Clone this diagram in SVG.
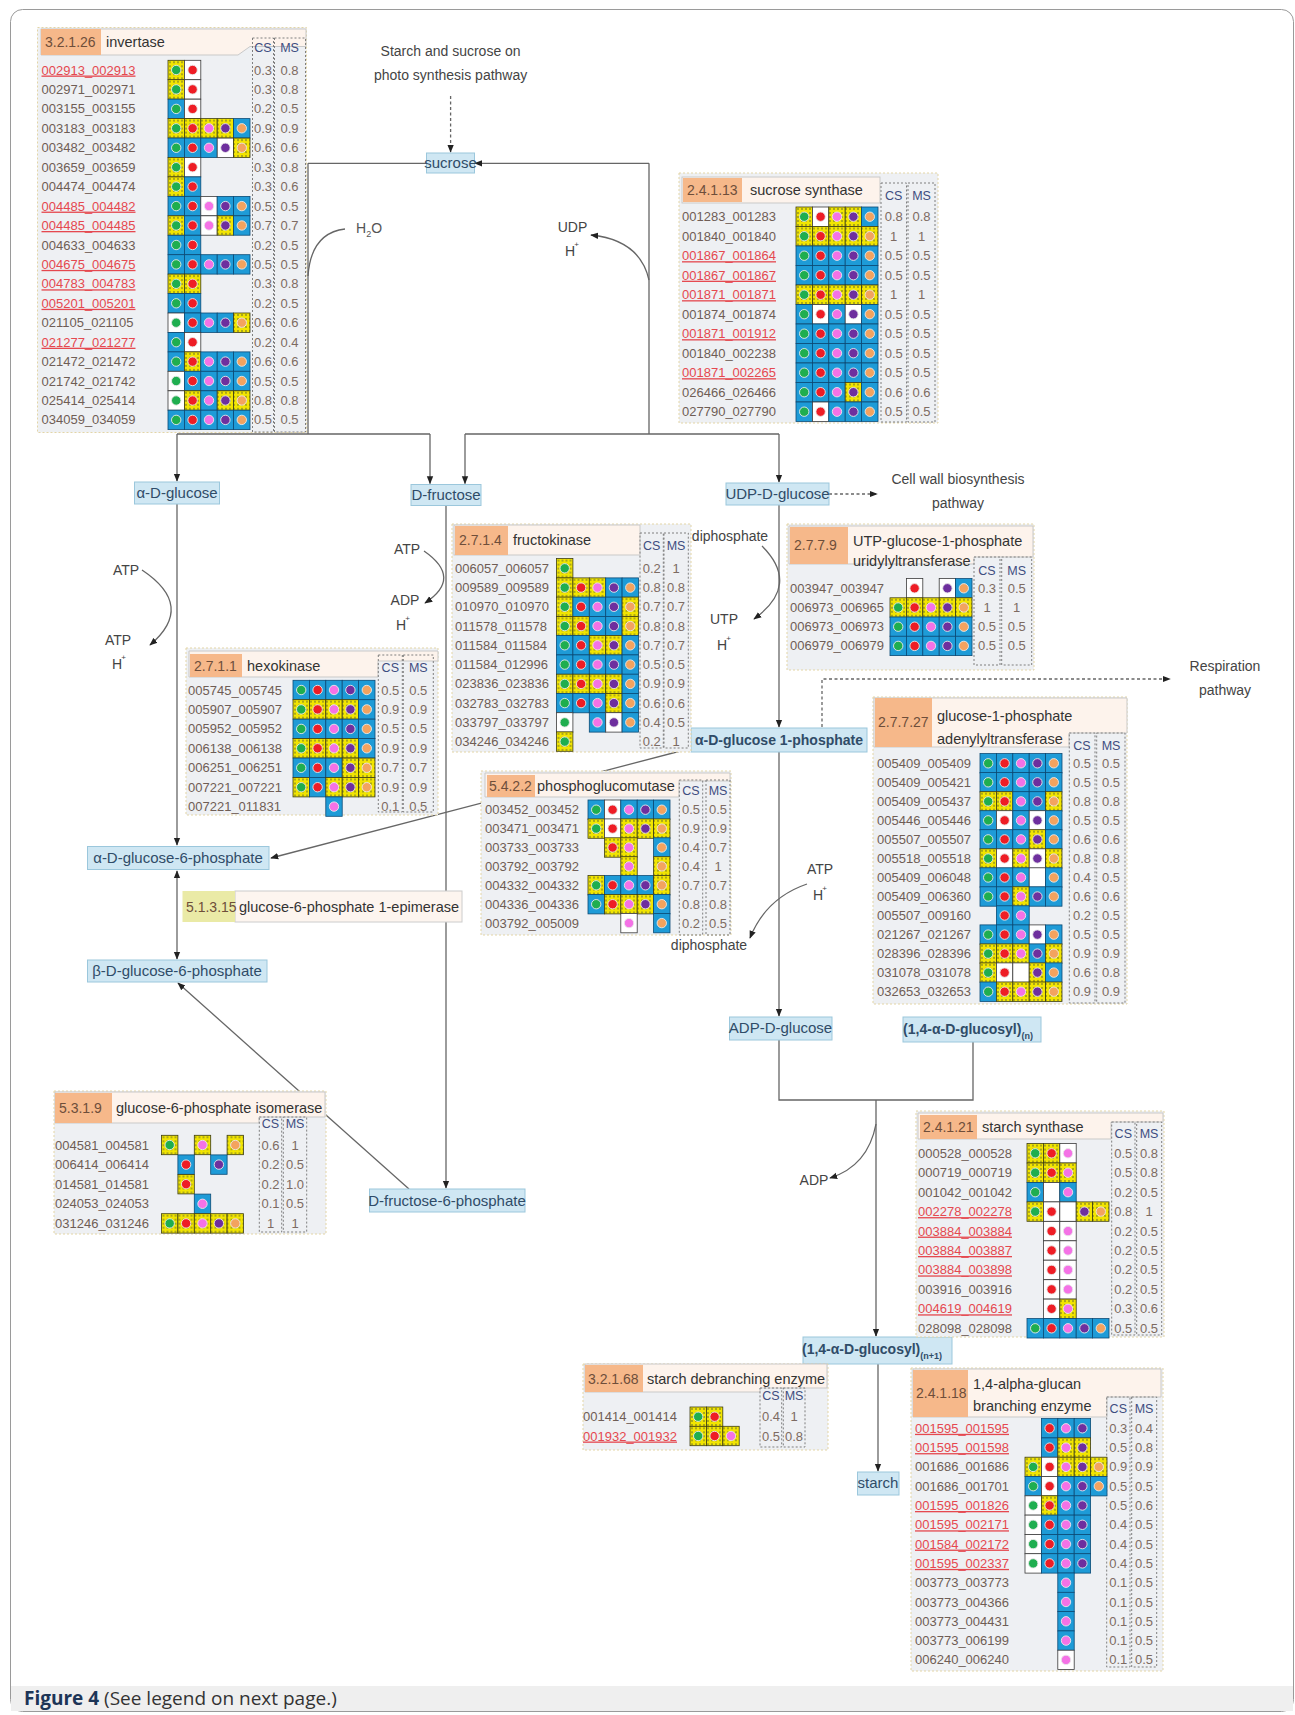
<svg xmlns="http://www.w3.org/2000/svg" width="1295" height="1715" viewBox="0 0 1295 1715">
<style>
text{font-family:"Liberation Sans",Arial,sans-serif}
.id{font-size:13px;fill:#6f5d55}
.r{fill:#e5484f;text-decoration:underline}
.v{font-size:13px;fill:#7d6b62;text-anchor:middle}
.h{font-size:12.5px;fill:#3e4d80;text-anchor:middle}
.ec{font-size:14px;fill:#6e4e3a}
.en{font-size:14.5px;fill:#333}
.tb{fill:#eef0f3;stroke:#e3d5a6;stroke-dasharray:2 2}
.hb{fill:#fdf3ec;stroke:#c9c9c9}
.ob{fill:#f6b88a}
.cs{fill:none;stroke:#7f7f7f;stroke-dasharray:2 2}
.cb{fill:#1e9bd7;stroke:#0b4a75;stroke-width:.8}
.cy{fill:url(#dots);stroke:#3d3d12;stroke-width:.8}
.cw{fill:#fff;stroke:#3a3a3a;stroke-width:.8}
.k{stroke:#e9e9e9;stroke-width:.9}
.k0{fill:#1fae4f}.k1{fill:#ee1d25}.k2{fill:#f472e6}.k3{fill:#6e2f9e}.k4{fill:#f3a35f}
.m{fill:#cfe7f3;stroke:#9bc7dc}
.mt{font-size:15px;fill:#2f4c68;text-anchor:middle}
.mb{font-weight:bold;font-size:14px}
.l{font-size:14px;fill:#555}
.lc{font-size:14px;fill:#444;text-anchor:middle}
.c{fill:none;stroke:#666;stroke-width:1.3}
.d{stroke-dasharray:3 2.5}
</style>
<defs>
<pattern id="dots" width="4" height="4" patternUnits="userSpaceOnUse"><rect width="4" height="4" fill="#f2e500"/><circle cx="2" cy="2" r="0.9" fill="#8a8a24"/></pattern>
<marker id="ah" viewBox="0 0 10 10" refX="9" refY="5" markerWidth="8" markerHeight="8" markerUnits="userSpaceOnUse" orient="auto-start-reverse"><path d="M0,1L10,5L0,9Z" fill="#222"/></marker>
<g id="b0"><rect class="cb" x="0" width="16.4" height="19.4"/><circle class="k k0" cx="8.2" cy="9.7" r="4.7"/></g>
<g id="b1"><rect class="cb" x="16.4" width="16.4" height="19.4"/><circle class="k k1" cx="24.6" cy="9.7" r="4.7"/></g>
<g id="b2"><rect class="cb" x="32.8" width="16.4" height="19.4"/><circle class="k k2" cx="41" cy="9.7" r="4.7"/></g>
<g id="b3"><rect class="cb" x="49.2" width="16.4" height="19.4"/><circle class="k k3" cx="57.4" cy="9.7" r="4.7"/></g>
<g id="b4"><rect class="cb" x="65.6" width="16.4" height="19.4"/><circle class="k k4" cx="73.8" cy="9.7" r="4.7"/></g>
<g id="y0"><rect class="cy" x="0" width="16.4" height="19.4"/><circle class="k k0" cx="8.2" cy="9.7" r="4.7"/></g>
<g id="y1"><rect class="cy" x="16.4" width="16.4" height="19.4"/><circle class="k k1" cx="24.6" cy="9.7" r="4.7"/></g>
<g id="y2"><rect class="cy" x="32.8" width="16.4" height="19.4"/><circle class="k k2" cx="41" cy="9.7" r="4.7"/></g>
<g id="y3"><rect class="cy" x="49.2" width="16.4" height="19.4"/><circle class="k k3" cx="57.4" cy="9.7" r="4.7"/></g>
<g id="y4"><rect class="cy" x="65.6" width="16.4" height="19.4"/><circle class="k k4" cx="73.8" cy="9.7" r="4.7"/></g>
<g id="w0"><rect class="cw" x="0" width="16.4" height="19.4"/><circle class="k k0" cx="8.2" cy="9.7" r="4.7"/></g>
<g id="w1"><rect class="cw" x="16.4" width="16.4" height="19.4"/><circle class="k k1" cx="24.6" cy="9.7" r="4.7"/></g>
<g id="w2"><rect class="cw" x="32.8" width="16.4" height="19.4"/><circle class="k k2" cx="41" cy="9.7" r="4.7"/></g>
<g id="w3"><rect class="cw" x="49.2" width="16.4" height="19.4"/><circle class="k k3" cx="57.4" cy="9.7" r="4.7"/></g>
<g id="w4"><rect class="cw" x="65.6" width="16.4" height="19.4"/><circle class="k k4" cx="73.8" cy="9.7" r="4.7"/></g>
<rect id="e1" class="cw" x="16.4" width="16.4" height="19.4"/>
<rect id="e2" class="cw" x="32.8" width="16.4" height="19.4"/>
<rect id="e3" class="cw" x="49.2" width="16.4" height="19.4"/>
<g id="B"><use href="#b0"/><use href="#b1"/><use href="#b2"/><use href="#b3"/><use href="#b4"/></g>
<g id="Y"><use href="#y0"/><use href="#y1"/><use href="#y2"/><use href="#y3"/><use href="#y4"/></g>
</defs>
<rect width="1295" height="1715" fill="#fff"/>
<rect x="10.5" y="9.5" width="1283" height="1702" rx="12" fill="none" stroke="#9a9a9a"/>
<rect x="11" y="1686" width="1282" height="25" fill="#efefef"/>
<text x="24" y="1705" style="font-family:'Open Sans','Liberation Sans',sans-serif;font-size:19px"><tspan font-weight="bold" fill="#1d3557">Figure 4</tspan><tspan fill="#333"> (See legend on next page.)</tspan></text>

<!-- connectors -->
<g id="connectors">
<path class="c" d="M308,163.3H426.5"/>
<path class="c" d="M649,163.3H475" marker-end="url(#ah)"/>
<path class="c" d="M308,163.3V434M177,434H430M649,163.3V434M465,434H779"/>
<path class="c" d="M177,434V481" marker-end="url(#ah)"/>
<path class="c" d="M430,434V483.5" marker-end="url(#ah)"/>
<path class="c" d="M465,434V483.5" marker-end="url(#ah)"/>
<path class="c" d="M779,434V482" marker-end="url(#ah)"/>
<path class="c d" d="M450.6,96V152" marker-end="url(#ah)"/>
<path class="c" d="M308,276Q311,233 345,229"/>
<path class="c" d="M649,280Q640,240 591,235" marker-end="url(#ah)"/>
<path class="c" d="M142,570Q196,606 150,645" marker-end="url(#ah)"/>
<path class="c" d="M424,551Q463,578 425,603" marker-end="url(#ah)"/>
<path class="c" d="M762,546Q801,585 754,619" marker-end="url(#ah)"/>
<path class="c d" d="M829,494H877" marker-end="url(#ah)"/>
<path class="c d" d="M822,727V679H1170" marker-end="url(#ah)"/>
<path class="c" d="M177,504V845" marker-end="url(#ah)"/>
<path class="c" d="M446,505V1188" marker-end="url(#ah)"/>
<path class="c" d="M779,505V727" marker-end="url(#ah)"/>
<path class="c" d="M692,748L271,858" marker-end="url(#ah)"/>
<path class="c" d="M177,871V959" marker-start="url(#ah)" marker-end="url(#ah)"/>
<path class="c" d="M409,1189L178,983" marker-end="url(#ah)"/>
<path class="c" d="M779,752V1016" marker-end="url(#ah)"/>
<path class="c" d="M807,884Q766,898 750,938" marker-end="url(#ah)"/>
<path class="c" d="M779,1040V1100H973V1042M876,1100V1336"/>
<path class="c" d="M876,1330V1336" marker-end="url(#ah)"/>
<path class="c" d="M876,1124Q868,1166 830,1178" marker-end="url(#ah)"/>
<path class="c" d="M878,1364V1471" marker-end="url(#ah)"/>
</g>

<!-- free labels -->
<text class="lc" x="450.6" y="56">Starch and sucrose on</text>
<text class="lc" x="450.6" y="80">photo synthesis pathway</text>
<text class="l" x="356" y="233">H<tspan dy="4" font-size="9">2</tspan><tspan dy="-4">O</tspan></text>
<text class="lc" x="572.5" y="232">UDP</text>
<text class="lc" x="572" y="256">H<tspan font-size="8" dx="-1" dy="-9">+</tspan></text>
<text class="lc" x="958" y="484">Cell wall biosynthesis</text>
<text class="lc" x="958" y="508">pathway</text>
<text class="lc" x="126" y="575">ATP</text>
<text class="lc" x="118" y="645">ATP</text>
<text class="lc" x="119" y="669">H<tspan font-size="8" dx="-1" dy="-9">+</tspan></text>
<text class="lc" x="407" y="554">ATP</text>
<text class="lc" x="405" y="605">ADP</text>
<text class="lc" x="403" y="630">H<tspan font-size="8" dx="-1" dy="-9">+</tspan></text>
<text class="lc" x="730" y="541">diphosphate</text>
<text class="lc" x="724" y="624">UTP</text>
<text class="lc" x="724" y="650">H<tspan font-size="8" dx="-1" dy="-9">+</tspan></text>
<text class="lc" x="1225" y="671">Respiration</text>
<text class="lc" x="1225" y="695">pathway</text>
<text class="lc" x="820" y="874">ATP</text>
<text class="lc" x="820" y="900">H<tspan font-size="8" dx="-1" dy="-9">+</tspan></text>
<text class="lc" x="709" y="950">diphosphate</text>
<text class="lc" x="814" y="1185">ADP</text>

<!-- metabolites -->
<g id="sucrose"><rect class="m" x="426.5" y="153" width="48" height="20"/><text class="mt" x="450.5" y="168" font-size="13.5">sucrose</text></g>
<g id="a-glucose"><rect class="m" x="134.5" y="482" width="85" height="22"/><text class="mt" x="177" y="498">α-D-glucose</text></g>
<g id="d-fructose"><rect class="m" x="411" y="484.5" width="70" height="21"/><text class="mt" x="446" y="500">D-fructose</text></g>
<g id="udp-glucose"><rect class="m" x="726" y="483" width="103" height="22"/><text class="mt" x="777.5" y="499" font-size="14">UDP-D-glucose</text></g>
<g id="a-g1p"><rect class="m" x="691" y="728" width="176" height="24"/><text class="mt mb" x="779" y="745">α-D-glucose 1-phosphate</text></g>
<g id="a-g6p"><rect class="m" x="87.5" y="846.5" width="181.5" height="23"/><text class="mt" x="178" y="863">α-D-glucose-6-phosphate</text></g>
<g id="b-g6p"><rect class="m" x="87.5" y="960" width="179.5" height="22"/><text class="mt" x="177" y="976">β-D-glucose-6-phosphate</text></g>
<g id="f6p"><rect class="m" x="369.5" y="1189" width="155.5" height="23"/><text class="mt" x="447" y="1205.5" font-size="14.5">D-fructose-6-phosphate</text></g>
<g id="adp-glucose"><rect class="m" x="729.5" y="1017" width="102.5" height="23"/><text class="mt" x="780.5" y="1033" font-size="14">ADP-D-glucose</text></g>
<g id="glucosyl-n"><rect class="m" x="903" y="1017" width="138" height="25"/><text class="mt mb" x="968" y="1034">(1,4-α-D-glucosyl)<tspan font-size="9" dy="5">(n)</tspan></text></g>
<g id="glucosyl-n1"><rect class="m" x="803" y="1337" width="149" height="27"/><text class="mt mb" x="872" y="1354">(1,4-α-D-glucosyl)<tspan font-size="9" dy="5">(n+1)</tspan></text></g>
<g id="starch"><rect class="m" x="857.5" y="1472" width="41.5" height="23"/><text class="mt" x="878" y="1488" font-size="14">starch</text></g>

<!-- epimerase -->
<g id="epimerase"><rect x="235" y="891" width="227" height="31" fill="#fdf5ef" stroke="#cccccc"/><rect x="182.5" y="891" width="52.5" height="31" fill="#eaeaa6"/><text class="ec" x="186" y="911.5">5.1.3.15</text><text class="en" x="239" y="911.5">glucose-6-phosphate 1-epimerase</text></g>

<!-- T1 invertase -->
<g id="invertase">
<rect class="tb" x="37.5" y="27.5" width="269" height="405"/>
<path class="hb" d="M41,29H306V46.5H250L238,55H41Z"/>
<rect class="ob" x="41" y="29" width="60" height="26"/>
<text class="ec" x="45" y="47">3.2.1.26</text><text class="en" x="106" y="47">invertase</text>
<rect class="cs" x="252.5" y="38" width="21" height="394"/><rect class="cs" x="274.5" y="38" width="31" height="394"/>
<text class="h" x="263" y="51.5">CS</text><text class="h" x="289.5" y="51.5">MS</text>
<g transform="translate(168,60.3)"><use href="#y0"/><use href="#w1"/></g>
<g transform="translate(168,79.7)"><use href="#y0"/><use href="#w1"/></g>
<g transform="translate(168,99.2)"><use href="#b0"/><use href="#w1"/></g>
<g transform="translate(168,118.6)"><use href="#y0"/><use href="#y1"/><use href="#y2"/><use href="#y3"/><use href="#b4"/></g>
<g transform="translate(168,138.1)"><use href="#b0"/><use href="#b1"/><use href="#b2"/><use href="#w3"/><use href="#y4"/></g>
<g transform="translate(168,157.5)"><use href="#y0"/><use href="#w1"/></g>
<g transform="translate(168,176.9)"><use href="#y0"/><use href="#b1"/></g>
<g transform="translate(168,196.4)"><use href="#b0"/><use href="#b1"/><use href="#w2"/><use href="#b3"/><use href="#b4"/></g>
<g transform="translate(168,215.8)"><use href="#y0"/><use href="#b1"/><use href="#w2"/><use href="#y3"/><use href="#b4"/></g>
<g transform="translate(168,235.3)"><use href="#b0"/><use href="#b1"/></g>
<g transform="translate(168,254.7)"><use href="#B"/></g>
<g transform="translate(168,274.1)"><use href="#y0"/><use href="#y1"/></g>
<g transform="translate(168,293.6)"><use href="#b0"/><use href="#b1"/></g>
<g transform="translate(168,313)"><use href="#w0"/><use href="#b1"/><use href="#b2"/><use href="#b3"/><use href="#y4"/></g>
<g transform="translate(168,332.5)"><use href="#b0"/><use href="#w1"/></g>
<g transform="translate(168,351.9)"><use href="#b0"/><use href="#y1"/><use href="#b2"/><use href="#b3"/><use href="#b4"/></g>
<g transform="translate(168,371.3)"><use href="#w0"/><use href="#b1"/><use href="#b2"/><use href="#b3"/><use href="#b4"/></g>
<g transform="translate(168,390.8)"><use href="#w0"/><use href="#y1"/><use href="#b2"/><use href="#y3"/><use href="#y4"/></g>
<g transform="translate(168,410.2)"><use href="#B"/></g>
<text class="id r" x="41.5" y="74.5">002913_002913</text>
<text class="id" x="41.5" y="93.9">002971_002971</text>
<text class="id" x="41.5" y="113.4">003155_003155</text>
<text class="id" x="41.5" y="132.8">003183_003183</text>
<text class="id" x="41.5" y="152.3">003482_003482</text>
<text class="id" x="41.5" y="171.7">003659_003659</text>
<text class="id" x="41.5" y="191.1">004474_004474</text>
<text class="id r" x="41.5" y="210.6">004485_004482</text>
<text class="id r" x="41.5" y="230">004485_004485</text>
<text class="id" x="41.5" y="249.5">004633_004633</text>
<text class="id r" x="41.5" y="268.9">004675_004675</text>
<text class="id r" x="41.5" y="288.3">004783_004783</text>
<text class="id r" x="41.5" y="307.8">005201_005201</text>
<text class="id" x="41.5" y="327.2">021105_021105</text>
<text class="id r" x="41.5" y="346.7">021277_021277</text>
<text class="id" x="41.5" y="366.1">021472_021472</text>
<text class="id" x="41.5" y="385.5">021742_021742</text>
<text class="id" x="41.5" y="405">025414_025414</text>
<text class="id" x="41.5" y="424.4">034059_034059</text>
<text class="v"><tspan x="263" y="74.5">0.3</tspan><tspan x="289.5">0.8</tspan><tspan x="263" y="93.9">0.3</tspan><tspan x="289.5">0.8</tspan><tspan x="263" y="113.4">0.2</tspan><tspan x="289.5">0.5</tspan><tspan x="263" y="132.8">0.9</tspan><tspan x="289.5">0.9</tspan><tspan x="263" y="152.3">0.6</tspan><tspan x="289.5">0.6</tspan><tspan x="263" y="171.7">0.3</tspan><tspan x="289.5">0.8</tspan><tspan x="263" y="191.1">0.3</tspan><tspan x="289.5">0.6</tspan><tspan x="263" y="210.6">0.5</tspan><tspan x="289.5">0.5</tspan><tspan x="263" y="230">0.7</tspan><tspan x="289.5">0.7</tspan><tspan x="263" y="249.5">0.2</tspan><tspan x="289.5">0.5</tspan><tspan x="263" y="268.9">0.5</tspan><tspan x="289.5">0.5</tspan><tspan x="263" y="288.3">0.3</tspan><tspan x="289.5">0.8</tspan><tspan x="263" y="307.8">0.2</tspan><tspan x="289.5">0.5</tspan><tspan x="263" y="327.2">0.6</tspan><tspan x="289.5">0.6</tspan><tspan x="263" y="346.7">0.2</tspan><tspan x="289.5">0.4</tspan><tspan x="263" y="366.1">0.6</tspan><tspan x="289.5">0.6</tspan><tspan x="263" y="385.5">0.5</tspan><tspan x="289.5">0.5</tspan><tspan x="263" y="405">0.8</tspan><tspan x="289.5">0.8</tspan><tspan x="263" y="424.4">0.5</tspan><tspan x="289.5">0.5</tspan></text>
</g>

<!-- T2 sucrose synthase -->
<g id="sucrose-synthase">
<rect class="tb" x="679" y="173" width="259" height="250"/>
<rect class="hb" x="682" y="177" width="198" height="26"/>
<rect class="ob" x="683" y="178" width="59" height="24"/>
<text class="ec" x="687" y="195">2.4.1.13</text><text class="en" x="750" y="195">sucrose synthase</text>
<rect class="cs" x="881" y="183" width="25.5" height="239"/><rect class="cs" x="908" y="183" width="27" height="239"/>
<text class="h" x="893.7" y="199.5">CS</text><text class="h" x="921.5" y="199.5">MS</text>
<g transform="translate(796,207)"><use href="#y0"/><use href="#w1"/><use href="#y2"/><use href="#y3"/><use href="#b4"/></g>
<g transform="translate(796,226.5)"><use href="#Y"/></g>
<g transform="translate(796,246)"><use href="#B"/></g>
<g transform="translate(796,265.5)"><use href="#B"/></g>
<g transform="translate(796,285)"><use href="#Y"/></g>
<g transform="translate(796,304.5)"><use href="#b0"/><use href="#w1"/><use href="#b2"/><use href="#w3"/><use href="#b4"/></g>
<g transform="translate(796,324)"><use href="#B"/></g>
<g transform="translate(796,343.5)"><use href="#B"/></g>
<g transform="translate(796,363)"><use href="#B"/></g>
<g transform="translate(796,382.5)"><use href="#b0"/><use href="#b1"/><use href="#b2"/><use href="#y3"/><use href="#b4"/></g>
<g transform="translate(796,402)"><use href="#b0"/><use href="#w1"/><use href="#b2"/><use href="#b3"/><use href="#b4"/></g>
<text class="id" x="682" y="221.2">001283_001283</text>
<text class="id" x="682" y="240.7">001840_001840</text>
<text class="id r" x="682" y="260.2">001867_001864</text>
<text class="id r" x="682" y="279.7">001867_001867</text>
<text class="id r" x="682" y="299.2">001871_001871</text>
<text class="id" x="682" y="318.7">001874_001874</text>
<text class="id r" x="682" y="338.2">001871_001912</text>
<text class="id" x="682" y="357.7">001840_002238</text>
<text class="id r" x="682" y="377.2">001871_002265</text>
<text class="id" x="682" y="396.7">026466_026466</text>
<text class="id" x="682" y="416.2">027790_027790</text>
<text class="v"><tspan x="893.7" y="221.2">0.8</tspan><tspan x="921.5">0.8</tspan><tspan x="893.7" y="240.7">1</tspan><tspan x="921.5">1</tspan><tspan x="893.7" y="260.2">0.5</tspan><tspan x="921.5">0.5</tspan><tspan x="893.7" y="279.7">0.5</tspan><tspan x="921.5">0.5</tspan><tspan x="893.7" y="299.2">1</tspan><tspan x="921.5">1</tspan><tspan x="893.7" y="318.7">0.5</tspan><tspan x="921.5">0.5</tspan><tspan x="893.7" y="338.2">0.5</tspan><tspan x="921.5">0.5</tspan><tspan x="893.7" y="357.7">0.5</tspan><tspan x="921.5">0.5</tspan><tspan x="893.7" y="377.2">0.5</tspan><tspan x="921.5">0.5</tspan><tspan x="893.7" y="396.7">0.6</tspan><tspan x="921.5">0.6</tspan><tspan x="893.7" y="416.2">0.5</tspan><tspan x="921.5">0.5</tspan></text>
</g>

<!-- T3 fructokinase -->
<g id="fructokinase">
<rect class="tb" x="452" y="524" width="239" height="228"/>
<rect class="hb" x="454" y="525" width="186" height="30"/>
<rect class="ob" x="455" y="526" width="53" height="29"/>
<text class="ec" x="459" y="545">2.7.1.4</text><text class="en" x="513" y="545">fructokinase</text>
<rect class="cs" x="640" y="533" width="23.3" height="215"/><rect class="cs" x="664" y="533" width="24.3" height="215"/>
<text class="h" x="651.7" y="550">CS</text><text class="h" x="676" y="550">MS</text>
<g transform="translate(556.5,558.6)"><use href="#y0"/></g>
<g transform="translate(556.5,577.9)"><use href="#y0"/><use href="#y1"/><use href="#y2"/><use href="#b3"/><use href="#b4"/></g>
<g transform="translate(556.5,597.1)"><use href="#y0"/><use href="#b1"/><use href="#b2"/><use href="#b3"/><use href="#y4"/></g>
<g transform="translate(556.5,616.4)"><use href="#y0"/><use href="#y1"/><use href="#b2"/><use href="#b3"/><use href="#y4"/></g>
<g transform="translate(556.5,635.6)"><use href="#b0"/><use href="#b1"/><use href="#y2"/><use href="#y3"/><use href="#b4"/></g>
<g transform="translate(556.5,654.9)"><use href="#B"/></g>
<g transform="translate(556.5,674.2)"><use href="#y0"/><use href="#y1"/><use href="#y2"/><use href="#y3"/><use href="#b4"/></g>
<g transform="translate(556.5,693.4)"><use href="#b0"/><use href="#b1"/><use href="#b2"/><use href="#y3"/><use href="#b4"/></g>
<g transform="translate(556.5,712.7)"><use href="#w0"/><use href="#b2"/><use href="#w3"/><use href="#b4"/></g>
<g transform="translate(556.5,731.9)"><use href="#y0"/></g>
<text class="id" x="455" y="572.8">006057_006057</text>
<text class="id" x="455" y="592.1">009589_009589</text>
<text class="id" x="455" y="611.3">010970_010970</text>
<text class="id" x="455" y="630.6">011578_011578</text>
<text class="id" x="455" y="649.8">011584_011584</text>
<text class="id" x="455" y="669.1">011584_012996</text>
<text class="id" x="455" y="688.4">023836_023836</text>
<text class="id" x="455" y="707.6">032783_032783</text>
<text class="id" x="455" y="726.9">033797_033797</text>
<text class="id" x="455" y="746.1">034246_034246</text>
<text class="v"><tspan x="651.7" y="572.8">0.2</tspan><tspan x="676">1</tspan><tspan x="651.7" y="592.1">0.8</tspan><tspan x="676">0.8</tspan><tspan x="651.7" y="611.3">0.7</tspan><tspan x="676">0.7</tspan><tspan x="651.7" y="630.6">0.8</tspan><tspan x="676">0.8</tspan><tspan x="651.7" y="649.8">0.7</tspan><tspan x="676">0.7</tspan><tspan x="651.7" y="669.1">0.5</tspan><tspan x="676">0.5</tspan><tspan x="651.7" y="688.4">0.9</tspan><tspan x="676">0.9</tspan><tspan x="651.7" y="707.6">0.6</tspan><tspan x="676">0.6</tspan><tspan x="651.7" y="726.9">0.4</tspan><tspan x="676">0.5</tspan><tspan x="651.7" y="746.1">0.2</tspan><tspan x="676">1</tspan></text>
</g>

<!-- T4 hexokinase -->
<g id="hexokinase">
<rect class="tb" x="186" y="648" width="252" height="167"/>
<path class="hb" d="M189,651H438V661H378V677H189Z"/>
<rect class="ob" x="190" y="654" width="52" height="23"/>
<text class="ec" x="194" y="670.5">2.7.1.1</text><text class="en" x="247" y="670.5">hexokinase</text>
<rect class="cs" x="378.3" y="655" width="24" height="157"/><rect class="cs" x="403.3" y="655" width="30" height="157"/>
<text class="h" x="390.3" y="671.5">CS</text><text class="h" x="418.3" y="671.5">MS</text>
<g transform="translate(293,680.3)"><use href="#B"/></g>
<g transform="translate(293,699.7)"><use href="#y0"/><use href="#y1"/><use href="#y2"/><use href="#y3"/><use href="#b4"/></g>
<g transform="translate(293,719.2)"><use href="#B"/></g>
<g transform="translate(293,738.6)"><use href="#y0"/><use href="#y1"/><use href="#y2"/><use href="#y3"/><use href="#b4"/></g>
<g transform="translate(293,758.1)"><use href="#b0"/><use href="#b1"/><use href="#b2"/><use href="#y3"/><use href="#y4"/></g>
<g transform="translate(293,777.5)"><use href="#y0"/><use href="#b1"/><use href="#y2"/><use href="#y3"/><use href="#y4"/></g>
<g transform="translate(293,796.9)"><use href="#b2"/></g>
<text class="id" x="188" y="694.5">005745_005745</text>
<text class="id" x="188" y="713.9">005907_005907</text>
<text class="id" x="188" y="733.4">005952_005952</text>
<text class="id" x="188" y="752.8">006138_006138</text>
<text class="id" x="188" y="772.3">006251_006251</text>
<text class="id" x="188" y="791.7">007221_007221</text>
<text class="id" x="188" y="811.1">007221_011831</text>
<text class="v"><tspan x="390.3" y="694.5">0.5</tspan><tspan x="418.3">0.5</tspan><tspan x="390.3" y="713.9">0.9</tspan><tspan x="418.3">0.9</tspan><tspan x="390.3" y="733.4">0.5</tspan><tspan x="418.3">0.5</tspan><tspan x="390.3" y="752.8">0.9</tspan><tspan x="418.3">0.9</tspan><tspan x="390.3" y="772.3">0.7</tspan><tspan x="418.3">0.7</tspan><tspan x="390.3" y="791.7">0.9</tspan><tspan x="418.3">0.9</tspan><tspan x="390.3" y="811.1">0.1</tspan><tspan x="418.3">0.5</tspan></text>
</g>

<!-- T5 UTP-glucose-1-phosphate uridylyltransferase -->
<g id="utp-transferase">
<rect class="tb" x="787" y="524" width="247" height="146"/>
<path class="hb" d="M789,526H1033V557H974V564H789Z"/>
<rect class="ob" x="790" y="527" width="58" height="37"/>
<text class="ec" x="794" y="550">2.7.7.9</text>
<text class="en" x="853" y="546">UTP-glucose-1-phosphate</text><text class="en" x="853" y="566">uridylyltransferase</text>
<rect class="cs" x="974" y="557" width="26" height="108"/><rect class="cs" x="1001.7" y="557" width="30" height="108"/>
<text class="h" x="987" y="574.5">CS</text><text class="h" x="1016.7" y="574.5">MS</text>
<g transform="translate(890,578.6)"><use href="#w1"/><use href="#w3"/><use href="#b4"/></g>
<g transform="translate(890,597.8)"><use href="#Y"/></g>
<g transform="translate(890,617)"><use href="#B"/></g>
<g transform="translate(890,636.2)"><use href="#B"/></g>
<text class="id" x="790" y="592.8">003947_003947</text>
<text class="id" x="790" y="612">006973_006965</text>
<text class="id" x="790" y="631.2">006973_006973</text>
<text class="id" x="790" y="650.4">006979_006979</text>
<text class="v"><tspan x="987" y="592.8">0.3</tspan><tspan x="1016.7">0.5</tspan><tspan x="987" y="612">1</tspan><tspan x="1016.7">1</tspan><tspan x="987" y="631.2">0.5</tspan><tspan x="1016.7">0.5</tspan><tspan x="987" y="650.4">0.5</tspan><tspan x="1016.7">0.5</tspan></text>
</g>

<!-- T6 glucose-1-phosphate adenylyltransferase -->
<g id="g1p-adenylyltransferase">
<rect class="tb" x="873" y="697" width="254" height="307"/>
<path class="hb" d="M874,698H1127V733H1069V747H874Z"/>
<rect class="ob" x="875" y="698" width="57" height="49"/>
<text class="ec" x="878" y="727">2.7.7.27</text>
<text class="en" x="937" y="721">glucose-1-phosphate</text><text class="en" x="937" y="744">adenylyltransferase</text>
<rect class="cs" x="1069.3" y="733" width="25.7" height="270"/><rect class="cs" x="1096.7" y="733" width="28.3" height="270"/>
<text class="h" x="1082" y="749.5">CS</text><text class="h" x="1111" y="749.5">MS</text>
<g transform="translate(980,753.6)"><use href="#B"/></g>
<g transform="translate(980,772.6)"><use href="#B"/></g>
<g transform="translate(980,791.7)"><use href="#y0"/><use href="#y1"/><use href="#b2"/><use href="#b3"/><use href="#y4"/></g>
<g transform="translate(980,810.7)"><use href="#b0"/><use href="#w1"/><use href="#b2"/><use href="#w3"/><use href="#b4"/></g>
<g transform="translate(980,829.7)"><use href="#b0"/><use href="#b1"/><use href="#b2"/><use href="#y3"/><use href="#b4"/></g>
<g transform="translate(980,848.8)"><use href="#y0"/><use href="#w1"/><use href="#y2"/><use href="#w3"/><use href="#y4"/></g>
<g transform="translate(980,867.8)"><use href="#b0"/><use href="#b1"/><use href="#b2"/><use href="#e3"/><use href="#b4"/></g>
<g transform="translate(980,886.8)"><use href="#b0"/><use href="#b1"/><use href="#y2"/><use href="#b3"/><use href="#b4"/></g>
<g transform="translate(980,905.8)"><use href="#b1"/><use href="#b2"/></g>
<g transform="translate(980,924.9)"><use href="#b0"/><use href="#b1"/><use href="#b2"/><use href="#w3"/><use href="#b4"/></g>
<g transform="translate(980,943.9)"><use href="#y0"/><use href="#y1"/><use href="#y2"/><use href="#b3"/><use href="#y4"/></g>
<g transform="translate(980,962.9)"><use href="#y0"/><use href="#w1"/><use href="#e2"/><use href="#y3"/><use href="#b4"/></g>
<g transform="translate(980,982)"><use href="#b0"/><use href="#y1"/><use href="#y2"/><use href="#y3"/><use href="#y4"/></g>
<text class="id" x="877" y="767.8">005409_005409</text>
<text class="id" x="877" y="786.8">005409_005421</text>
<text class="id" x="877" y="805.9">005409_005437</text>
<text class="id" x="877" y="824.9">005446_005446</text>
<text class="id" x="877" y="843.9">005507_005507</text>
<text class="id" x="877" y="863">005518_005518</text>
<text class="id" x="877" y="882">005409_006048</text>
<text class="id" x="877" y="901">005409_006360</text>
<text class="id" x="877" y="920">005507_009160</text>
<text class="id" x="877" y="939.1">021267_021267</text>
<text class="id" x="877" y="958.1">028396_028396</text>
<text class="id" x="877" y="977.1">031078_031078</text>
<text class="id" x="877" y="996.2">032653_032653</text>
<text class="v"><tspan x="1082" y="767.8">0.5</tspan><tspan x="1111">0.5</tspan><tspan x="1082" y="786.8">0.5</tspan><tspan x="1111">0.5</tspan><tspan x="1082" y="805.9">0.8</tspan><tspan x="1111">0.8</tspan><tspan x="1082" y="824.9">0.5</tspan><tspan x="1111">0.5</tspan><tspan x="1082" y="843.9">0.6</tspan><tspan x="1111">0.6</tspan><tspan x="1082" y="863">0.8</tspan><tspan x="1111">0.8</tspan><tspan x="1082" y="882">0.4</tspan><tspan x="1111">0.5</tspan><tspan x="1082" y="901">0.6</tspan><tspan x="1111">0.6</tspan><tspan x="1082" y="920">0.2</tspan><tspan x="1111">0.5</tspan><tspan x="1082" y="939.1">0.5</tspan><tspan x="1111">0.5</tspan><tspan x="1082" y="958.1">0.9</tspan><tspan x="1111">0.9</tspan><tspan x="1082" y="977.1">0.6</tspan><tspan x="1111">0.8</tspan><tspan x="1082" y="996.2">0.9</tspan><tspan x="1111">0.9</tspan></text>
</g>

<!-- T7 phosphoglucomutase -->
<g id="phosphoglucomutase">
<rect class="tb" x="481" y="771" width="250" height="164"/>
<path class="hb" d="M485,773H730V781H679V797H485Z"/>
<rect class="ob" x="487" y="775" width="48" height="22"/>
<text class="ec" x="489" y="791">5.4.2.2</text><text class="en" x="537" y="791">phosphoglucomutase</text>
<rect class="cs" x="679.3" y="780" width="23.4" height="155"/><rect class="cs" x="706" y="780" width="24" height="155"/>
<text class="h" x="691" y="795">CS</text><text class="h" x="718" y="795">MS</text>
<g transform="translate(588,800)"><use href="#b0"/><use href="#w1"/><use href="#b2"/><use href="#b3"/><use href="#b4"/></g>
<g transform="translate(588,818.9)"><use href="#y0"/><use href="#w1"/><use href="#y2"/><use href="#y3"/><use href="#y4"/></g>
<g transform="translate(588,837.8)"><use href="#y1"/><use href="#y2"/><use href="#b4"/></g>
<g transform="translate(588,856.7)"><use href="#y2"/><use href="#y4"/></g>
<g transform="translate(588,875.6)"><use href="#y0"/><use href="#b1"/><use href="#b2"/><use href="#b3"/><use href="#y4"/></g>
<g transform="translate(588,894.5)"><use href="#b0"/><use href="#y1"/><use href="#y2"/><use href="#y3"/><use href="#b4"/></g>
<g transform="translate(588,913.4)"><use href="#w2"/><use href="#b4"/></g>
<text class="id" x="485" y="814.2">003452_003452</text>
<text class="id" x="485" y="833.1">003471_003471</text>
<text class="id" x="485" y="852">003733_003733</text>
<text class="id" x="485" y="870.9">003792_003792</text>
<text class="id" x="485" y="889.8">004332_004332</text>
<text class="id" x="485" y="908.7">004336_004336</text>
<text class="id" x="485" y="927.6">003792_005009</text>
<text class="v"><tspan x="691" y="814.2">0.5</tspan><tspan x="718">0.5</tspan><tspan x="691" y="833.1">0.9</tspan><tspan x="718">0.9</tspan><tspan x="691" y="852">0.4</tspan><tspan x="718">0.7</tspan><tspan x="691" y="870.9">0.4</tspan><tspan x="718">1</tspan><tspan x="691" y="889.8">0.7</tspan><tspan x="718">0.7</tspan><tspan x="691" y="908.7">0.8</tspan><tspan x="718">0.8</tspan><tspan x="691" y="927.6">0.2</tspan><tspan x="718">0.5</tspan></text>
</g>

<!-- T8 glucose-6-phosphate isomerase -->
<g id="g6p-isomerase">
<rect class="tb" x="54" y="1091" width="272" height="143"/>
<path class="hb" d="M55,1092H325V1117H259V1123H55Z"/>
<rect class="ob" x="55" y="1093" width="57" height="30"/>
<text class="ec" x="59" y="1113">5.3.1.9</text><text class="en" x="116" y="1113">glucose-6-phosphate isomerase</text>
<rect class="cs" x="259.3" y="1117" width="22.4" height="115"/><rect class="cs" x="283.3" y="1117" width="23.4" height="115"/>
<text class="h" x="270.5" y="1128">CS</text><text class="h" x="295" y="1128">MS</text>
<g transform="translate(161.5,1135.3)"><use href="#y0"/><use href="#y2"/><use href="#y4"/></g>
<g transform="translate(161.5,1154.9)"><use href="#b1"/><use href="#b3"/></g>
<g transform="translate(161.5,1174.5)"><use href="#y1"/></g>
<g transform="translate(161.5,1194.1)"><use href="#b2"/></g>
<g transform="translate(161.5,1213.7)"><use href="#Y"/></g>
<text class="id" x="55" y="1149.5">004581_004581</text>
<text class="id" x="55" y="1169.1">006414_006414</text>
<text class="id" x="55" y="1188.7">014581_014581</text>
<text class="id" x="55" y="1208.3">024053_024053</text>
<text class="id" x="55" y="1227.9">031246_031246</text>
<text class="v"><tspan x="270.5" y="1149.5">0.6</tspan><tspan x="295">1</tspan><tspan x="270.5" y="1169.1">0.2</tspan><tspan x="295">0.5</tspan><tspan x="270.5" y="1188.7">0.2</tspan><tspan x="295">1.0</tspan><tspan x="270.5" y="1208.3">0.1</tspan><tspan x="295">0.5</tspan><tspan x="270.5" y="1227.9">1</tspan><tspan x="295">1</tspan></text>
</g>

<!-- T9 starch synthase -->
<g id="starch-synthase">
<rect class="tb" x="916" y="1111" width="248" height="226"/>
<path class="hb" d="M918,1113H1163V1122H1111V1139H918Z"/>
<rect class="ob" x="920" y="1115" width="57" height="24"/>
<text class="ec" x="923" y="1132">2.4.1.21</text><text class="en" x="982" y="1132">starch synthase</text>
<rect class="cs" x="1111.7" y="1122" width="23.3" height="213"/><rect class="cs" x="1136.7" y="1122" width="25" height="213"/>
<text class="h" x="1123.3" y="1138">CS</text><text class="h" x="1149" y="1138">MS</text>
<g transform="translate(1027,1143.6)"><use href="#y0"/><use href="#y1"/><use href="#w2"/></g>
<g transform="translate(1027,1163)"><use href="#y0"/><use href="#y1"/><use href="#y2"/></g>
<g transform="translate(1027,1182.5)"><use href="#b0"/><use href="#e1"/><use href="#b2"/></g>
<g transform="translate(1027,1201.9)"><use href="#y0"/><use href="#w1"/><use href="#e2"/><use href="#y3"/><use href="#y4"/></g>
<g transform="translate(1027,1221.4)"><use href="#w1"/><use href="#w2"/></g>
<g transform="translate(1027,1240.8)"><use href="#w1"/><use href="#w2"/></g>
<g transform="translate(1027,1260.2)"><use href="#w1"/><use href="#w2"/></g>
<g transform="translate(1027,1279.7)"><use href="#w1"/><use href="#w2"/></g>
<g transform="translate(1027,1299.1)"><use href="#w1"/><use href="#y2"/></g>
<g transform="translate(1027,1318.6)"><use href="#B"/></g>
<text class="id" x="918" y="1157.8">000528_000528</text>
<text class="id" x="918" y="1177.2">000719_000719</text>
<text class="id" x="918" y="1196.7">001042_001042</text>
<text class="id r" x="918" y="1216.1">002278_002278</text>
<text class="id r" x="918" y="1235.6">003884_003884</text>
<text class="id r" x="918" y="1255">003884_003887</text>
<text class="id r" x="918" y="1274.4">003884_003898</text>
<text class="id" x="918" y="1293.9">003916_003916</text>
<text class="id r" x="918" y="1313.3">004619_004619</text>
<text class="id" x="918" y="1332.8">028098_028098</text>
<text class="v"><tspan x="1123.3" y="1157.8">0.5</tspan><tspan x="1149">0.8</tspan><tspan x="1123.3" y="1177.2">0.5</tspan><tspan x="1149">0.8</tspan><tspan x="1123.3" y="1196.7">0.2</tspan><tspan x="1149">0.5</tspan><tspan x="1123.3" y="1216.1">0.8</tspan><tspan x="1149">1</tspan><tspan x="1123.3" y="1235.6">0.2</tspan><tspan x="1149">0.5</tspan><tspan x="1123.3" y="1255">0.2</tspan><tspan x="1149">0.5</tspan><tspan x="1123.3" y="1274.4">0.2</tspan><tspan x="1149">0.5</tspan><tspan x="1123.3" y="1293.9">0.2</tspan><tspan x="1149">0.5</tspan><tspan x="1123.3" y="1313.3">0.3</tspan><tspan x="1149">0.6</tspan><tspan x="1123.3" y="1332.8">0.5</tspan><tspan x="1149">0.5</tspan></text>
</g>

<!-- T10 starch debranching enzyme -->
<g id="debranching">
<rect class="tb" x="583" y="1364" width="245" height="86"/>
<path class="hb" d="M585,1364H827V1388H760V1392H585Z"/>
<rect class="ob" x="585" y="1365" width="58" height="27"/>
<text class="ec" x="588" y="1383.5">3.2.1.68</text><text class="en" x="647" y="1383.5">starch debranching enzyme</text>
<rect class="cs" x="760" y="1388" width="21.7" height="59"/><rect class="cs" x="783.3" y="1388" width="21.7" height="59"/>
<text class="h" x="771" y="1400">CS</text><text class="h" x="794" y="1400">MS</text>
<g transform="translate(690,1407)"><use href="#y0"/><use href="#y1"/></g>
<g transform="translate(690,1426.3)"><use href="#y0"/><use href="#y1"/><use href="#y2"/></g>
<text class="id" x="583" y="1421.2">001414_001414</text>
<text class="id r" x="583" y="1440.5">001932_001932</text>
<text class="v"><tspan x="771" y="1421.2">0.4</tspan><tspan x="794">1</tspan><tspan x="771" y="1440.5">0.5</tspan><tspan x="794">0.8</tspan></text>
</g>

<!-- T11 branching enzyme -->
<g id="branching">
<rect class="tb" x="911" y="1368" width="252" height="303"/>
<path class="hb" d="M913,1369H1161V1397H1107V1417H913Z"/>
<rect class="ob" x="913" y="1370" width="55" height="47"/>
<text class="ec" x="916" y="1398">2.4.1.18</text>
<text class="en" x="973" y="1389">1,4-alpha-glucan</text><text class="en" x="973" y="1411">branching enzyme</text>
<rect class="cs" x="1106.7" y="1397" width="23.3" height="270"/><rect class="cs" x="1131.7" y="1397" width="25" height="270"/>
<text class="h" x="1118.3" y="1413">CS</text><text class="h" x="1144" y="1413">MS</text>
<g transform="translate(1025,1418.6)"><use href="#b1"/><use href="#b2"/><use href="#b3"/></g>
<g transform="translate(1025,1437.9)"><use href="#b1"/><use href="#y2"/><use href="#y3"/></g>
<g transform="translate(1025,1457.2)"><use href="#y0"/><use href="#w1"/><use href="#y2"/><use href="#y3"/><use href="#y4"/></g>
<g transform="translate(1025,1476.5)"><use href="#b0"/><use href="#w1"/><use href="#b2"/><use href="#b3"/><use href="#b4"/></g>
<g transform="translate(1025,1495.8)"><use href="#w0"/><use href="#y1"/><use href="#b2"/><use href="#b3"/></g>
<g transform="translate(1025,1515.1)"><use href="#w0"/><use href="#b1"/><use href="#b2"/><use href="#b3"/></g>
<g transform="translate(1025,1534.4)"><use href="#w0"/><use href="#b1"/><use href="#b2"/><use href="#b3"/></g>
<g transform="translate(1025,1553.7)"><use href="#w0"/><use href="#b1"/><use href="#b2"/><use href="#b3"/></g>
<g transform="translate(1025,1573)"><use href="#b2"/></g>
<g transform="translate(1025,1592.3)"><use href="#b2"/></g>
<g transform="translate(1025,1611.6)"><use href="#b2"/></g>
<g transform="translate(1025,1630.9)"><use href="#b2"/></g>
<g transform="translate(1025,1650.2)"><use href="#w2"/></g>
<text class="id r" x="915" y="1432.8">001595_001595</text>
<text class="id r" x="915" y="1452.1">001595_001598</text>
<text class="id" x="915" y="1471.4">001686_001686</text>
<text class="id" x="915" y="1490.7">001686_001701</text>
<text class="id r" x="915" y="1510">001595_001826</text>
<text class="id r" x="915" y="1529.3">001595_002171</text>
<text class="id r" x="915" y="1548.6">001584_002172</text>
<text class="id r" x="915" y="1567.9">001595_002337</text>
<text class="id" x="915" y="1587.2">003773_003773</text>
<text class="id" x="915" y="1606.5">003773_004366</text>
<text class="id" x="915" y="1625.8">003773_004431</text>
<text class="id" x="915" y="1645.1">003773_006199</text>
<text class="id" x="915" y="1664.4">006240_006240</text>
<text class="v"><tspan x="1118.3" y="1432.8">0.3</tspan><tspan x="1144">0.4</tspan><tspan x="1118.3" y="1452.1">0.5</tspan><tspan x="1144">0.8</tspan><tspan x="1118.3" y="1471.4">0.9</tspan><tspan x="1144">0.9</tspan><tspan x="1118.3" y="1490.7">0.5</tspan><tspan x="1144">0.5</tspan><tspan x="1118.3" y="1510">0.5</tspan><tspan x="1144">0.6</tspan><tspan x="1118.3" y="1529.3">0.4</tspan><tspan x="1144">0.5</tspan><tspan x="1118.3" y="1548.6">0.4</tspan><tspan x="1144">0.5</tspan><tspan x="1118.3" y="1567.9">0.4</tspan><tspan x="1144">0.5</tspan><tspan x="1118.3" y="1587.2">0.1</tspan><tspan x="1144">0.5</tspan><tspan x="1118.3" y="1606.5">0.1</tspan><tspan x="1144">0.5</tspan><tspan x="1118.3" y="1625.8">0.1</tspan><tspan x="1144">0.5</tspan><tspan x="1118.3" y="1645.1">0.1</tspan><tspan x="1144">0.5</tspan><tspan x="1118.3" y="1664.4">0.1</tspan><tspan x="1144">0.5</tspan></text>
</g>
</svg>
